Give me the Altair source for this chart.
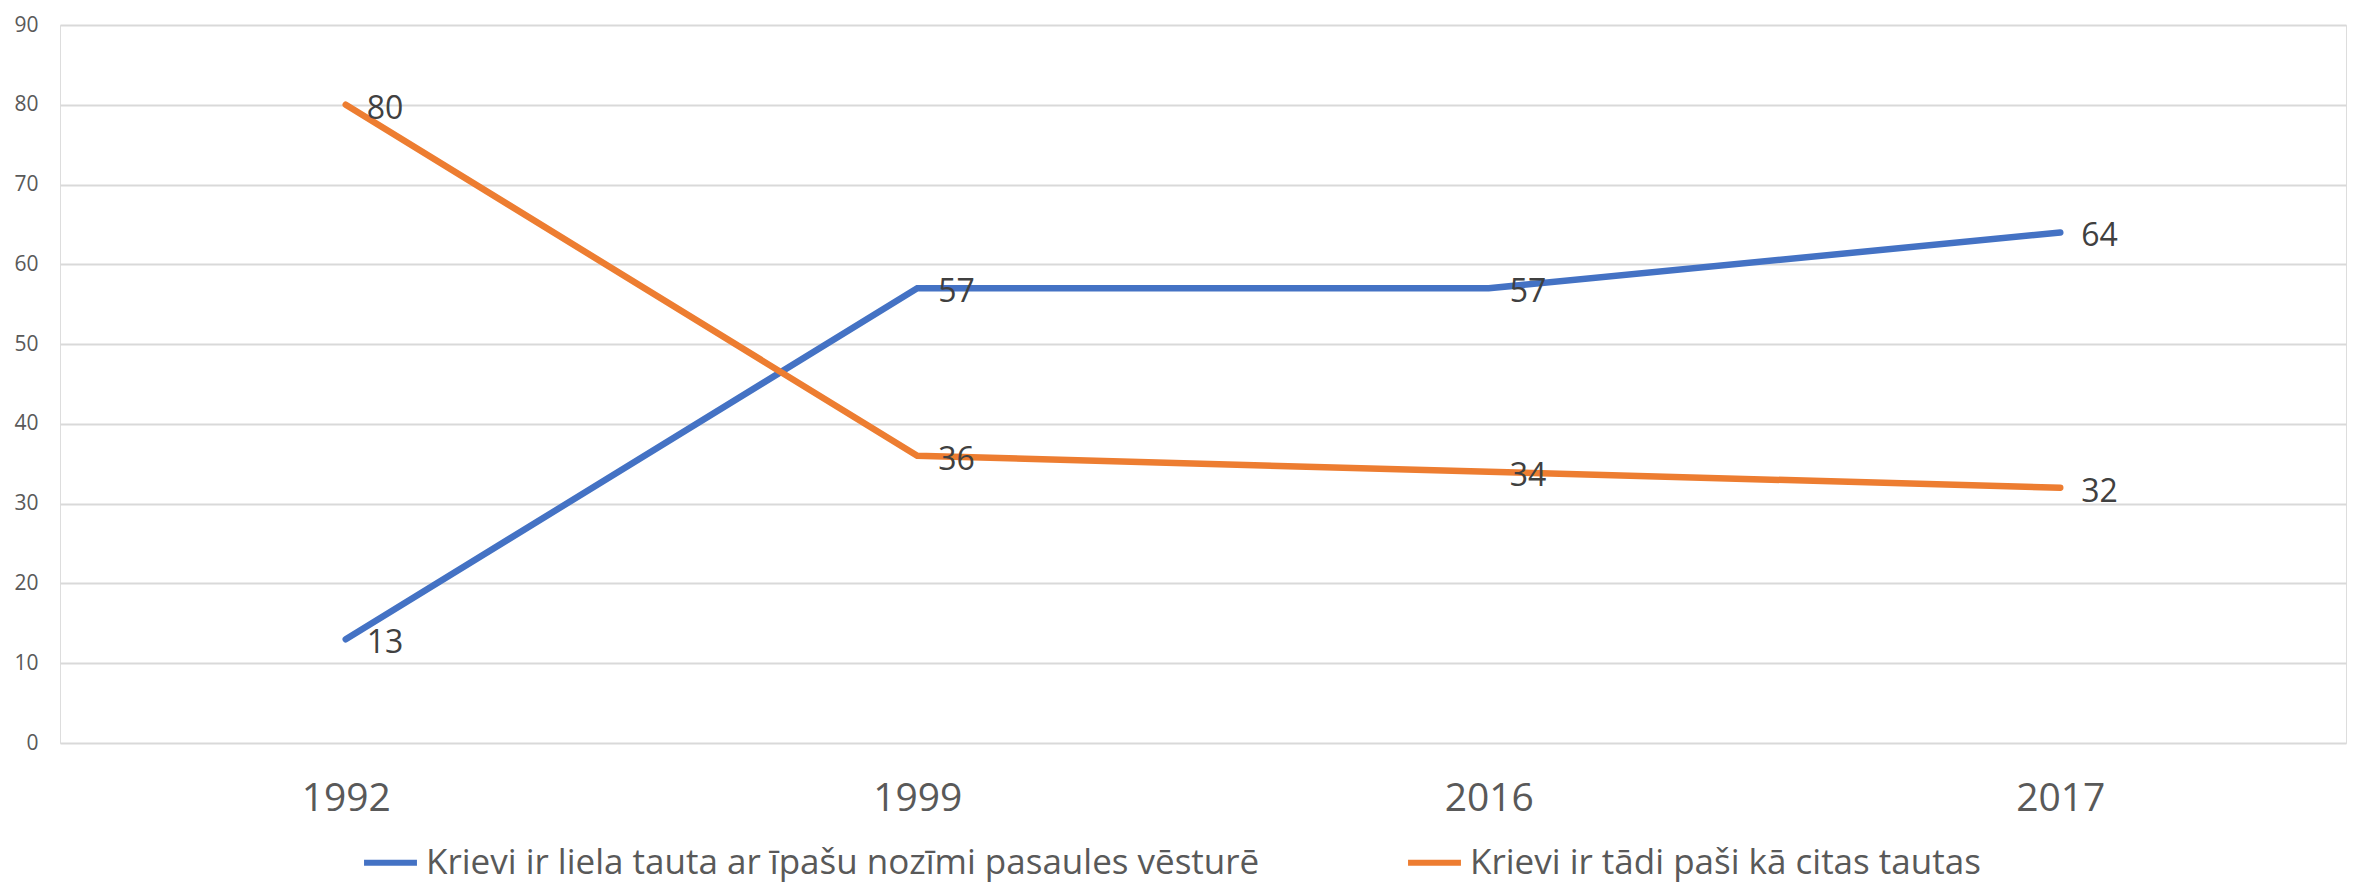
import altair as alt
import pandas as pd

years = ["1992", "1999", "2016", "2017"]
series_names = [
    "Krievi ir liela tauta ar īpašu nozīmi pasaules vēsturē",
    "Krievi ir tādi paši kā citas tautas",
]
values_a = [13, 57, 57, 64]
values_b = [80, 36, 34, 32]
y_ticks = [0, 10, 20, 30, 40, 50, 60, 70, 80, 90]
colors = ["#4472C4", "#ED7D31"]

rows = []
for y, v in zip(years, values_a):
    rows.append({"year": y, "series": series_names[0], "value": v})
for y, v in zip(years, values_b):
    rows.append({"year": y, "series": series_names[1], "value": v})
df = pd.DataFrame(rows)

FONT = "Open Sans"

x_enc = alt.X(
    "year:N",
    sort=years,
    scale=alt.Scale(padding=0.5),
    axis=alt.Axis(
        title=None,
        labelAngle=0,
        labelFontSize=39,
        labelColor="#595959",
        labelFont=FONT,
        labelBaseline="middle",
        labelPadding=55,
        ticks=False,
        tickSize=0,
        domain=False,
        grid=False,
    ),
)
y_enc = alt.Y(
    "value:Q",
    scale=alt.Scale(domain=[0, 90], nice=False),
    axis=alt.Axis(
        title=None,
        values=y_ticks,
        labelFontSize=21,
        labelColor="#595959",
        labelFont=FONT,
        labelPadding=22,
        ticks=False,
        tickSize=0,
        domain=False,
        grid=True,
        gridColor="#D9D9D9",
        gridWidth=2,
    ),
)
color_enc = alt.Color(
    "series:N",
    sort=series_names,
    scale=alt.Scale(domain=series_names, range=colors),
    legend=alt.Legend(
        title=None,
        orient="none",
        direction="horizontal",
        legendX=301,
        legendY=808,
        labelFontSize=35,
        labelFont=FONT,
        labelColor="#595959",
        labelLimit=0,
        symbolType="stroke",
        symbolStrokeWidth=6,
        symbolSize=2800,
        labelOffset=6,
        columnPadding=136,
        padding=0,
    ),
)

lines = alt.Chart(df).mark_line(strokeWidth=6.5, strokeCap="round").encode(
    x=x_enc, y=y_enc, color=color_enc
)
labels = alt.Chart(df).mark_text(
    align="left", baseline="middle", dx=21, dy=4, fontSize=32, font=FONT, color="#404040"
).encode(x=alt.X("year:N", sort=years), y=alt.Y("value:Q"), text=alt.Text("value:Q"))

chart = (
    alt.layer(lines, labels)
    .properties(
        width=2286,
        height=718,
        padding={"left": 52, "top": 17, "right": 7, "bottom": 142},
        autosize=alt.AutoSizeParams(type="none"),
    )
    .configure_view(stroke=None)
    .configure(background="white")
)

chart.save("out.html", embed_options={"renderer": "svg", "actions": False})
